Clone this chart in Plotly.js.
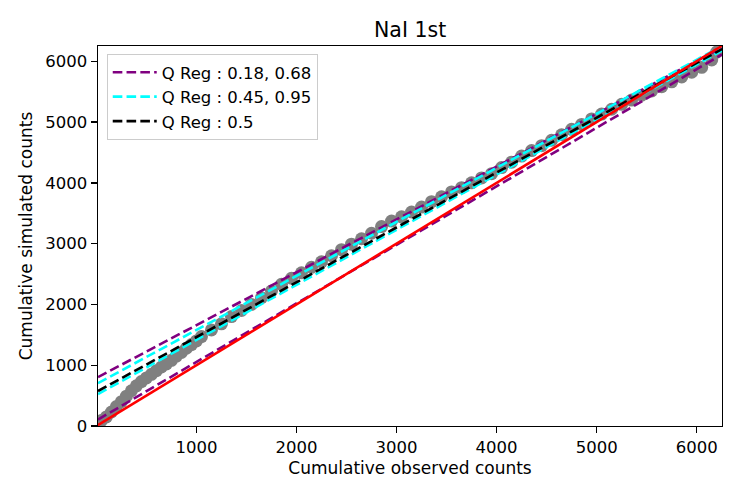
<!DOCTYPE html>
<html>
<head>
<meta charset="utf-8">
<script src="https://cdn.plot.ly/plotly-3.0.1.min.js"></script>
<style>
  html, body { margin: 0; padding: 0; background: #fff; }
  #graphDiv { width: 747px; height: 498px; }
</style>
</head>
<body>
<div id="graphDiv"></div>
<script>
// cumulative counts
var obsCounts = [16, 50, 100, 150, 200, 250, 300, 350, 400, 450, 500, 550, 600, 650, 700, 750, 800,
  850, 900, 950, 1000, 1050, 1150, 1250, 1350, 1450, 1550, 1650, 1750, 1850, 1950, 2050, 2150,
  2250, 2350, 2450, 2550, 2650, 2750, 2850, 2950, 3050, 3150, 3250, 3350, 3450, 3550, 3650, 3750,
  3850, 3950, 4050, 4150, 4250, 4350, 4450, 4550, 4650, 4750, 4850, 4950, 5050, 5150, 5250, 5350,
  5450, 5550, 5650, 5750, 5850, 5950, 6050, 6150, 6200, 6253];
var simCounts = [20, 90, 150, 230, 320, 400, 490, 580, 660, 730, 790, 850, 910, 970, 1020, 1080, 1150,
  1210, 1280, 1340, 1400, 1470, 1580, 1680, 1800, 1900, 2000, 2110, 2220, 2330, 2430, 2520, 2610,
  2700, 2800, 2900, 2990, 3080, 3170, 3280, 3370, 3440, 3520, 3600, 3690, 3770, 3850, 3920, 4000,
  4080, 4150, 4250, 4340, 4440, 4530, 4610, 4700, 4790, 4880, 4960, 5050, 5130, 5210, 5290, 5360,
  5440, 5510, 5580, 5660, 5740, 5820, 5900, 6020, 6150, 6245];

// quantile regression fits (intercept, slope), grouped by legend entry
var qLabels = ['Q Reg : 0.18, 0.68', 'Q Reg : 0.45, 0.95', 'Q Reg : 0.5'];
var qColors = ['purple', 'cyan', 'black'];
var qGroup = [0, 0, 1, 1, 2];
var qIntercept = [90, 790, 510, 690, 560];
var qSlope = [0.963, 0.869, 0.906, 0.889, 0.902];

var xMin = obsCounts[0];
var xMax = obsCounts[obsCounts.length - 1];

var data = [];

data.push({
  type: 'scatter',
  mode: 'markers',
  x: obsCounts,
  y: simCounts,
  showlegend: false,
  marker: {color: 'gray', size: 13, line: {width: 0}}
});

var seen = {};
for (var i = 0; i < qGroup.length; i++) {
  var g = qGroup[i];
  data.push({
    type: 'scatter',
    mode: 'lines',
    name: qLabels[g],
    legendgroup: 'q' + g,
    showlegend: !seen[g],
    x: [xMin, xMax],
    y: [qIntercept[i] + qSlope[i] * xMin, qIntercept[i] + qSlope[i] * xMax],
    line: {color: qColors[g], width: 2.6, dash: '9.6px,4.2px'}
  });
  seen[g] = true;
}

// 1:1 line
data.push({
  type: 'scatter',
  mode: 'lines',
  x: [0, 6400],
  y: [0, 6400],
  showlegend: false,
  line: {color: 'red', width: 2.6}
});

var axisStyle = {
  showgrid: false,
  zeroline: false,
  showline: true,
  mirror: true,
  linecolor: 'black',
  linewidth: 1.4,
  ticks: 'outside',
  ticklen: 6,
  tickwidth: 1.4,
  tickcolor: 'black',
  tickfont: {size: 16.5, color: 'black'}
};

var layout = {
  width: 747,
  height: 498,
  margin: {l: 98, r: 25, t: 46, b: 72},
  paper_bgcolor: 'white',
  plot_bgcolor: 'white',
  font: {family: 'DejaVu Sans', color: 'black'},
  title: {text: 'NaI 1st', font: {size: 20.5}, x: 0.549, xanchor: 'center', y: 0.94, yanchor: 'middle'},
  xaxis: Object.assign({}, axisStyle, {
    range: [xMin, xMax],
    tickvals: [1000, 2000, 3000, 4000, 5000, 6000],
    title: {text: 'Cumulative observed counts', font: {size: 17}, standoff: 6}
  }),
  yaxis: Object.assign({}, axisStyle, {
    range: [0, 6250],
    tickvals: [0, 1000, 2000, 3000, 4000, 5000, 6000],
    title: {text: 'Cumulative simulated counts', font: {size: 17}, standoff: 8}
  }),
  legend: {
    x: 0.014, y: 0.979, xanchor: 'left', yanchor: 'top',
    bgcolor: 'rgba(255,255,255,0.8)',
    bordercolor: '#cccccc',
    borderwidth: 1,
    itemwidth: 44,
    font: {size: 16.5},
    tracegroupgap: 0
  }
};

Plotly.newPlot('graphDiv', data, layout, {displayModeBar: false, staticPlot: true});
</script>
</body>
</html>
